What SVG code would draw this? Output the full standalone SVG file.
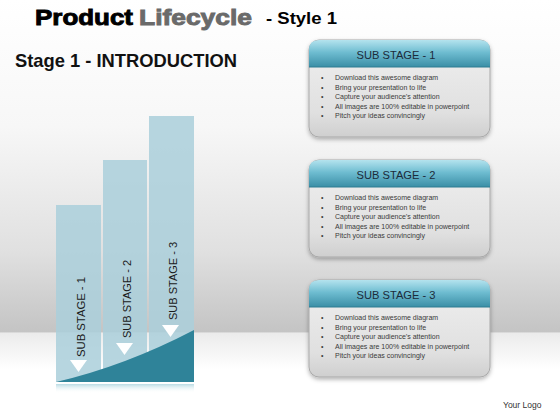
<svg xmlns="http://www.w3.org/2000/svg" width="560" height="420" viewBox="0 0 560 420">
  <defs>
    <linearGradient id="bg" x1="0" y1="0" x2="0" y2="1">
      <stop offset="0" stop-color="#ffffff"/>
      <stop offset="0.3" stop-color="#f7f7f7"/>
      <stop offset="0.6" stop-color="#e0e0e0"/>
      <stop offset="0.79" stop-color="#c4c4c4"/>
      <stop offset="0.793" stop-color="#ebebeb"/>
      <stop offset="0.88" stop-color="#ffffff"/>
      <stop offset="1" stop-color="#ffffff"/>
    </linearGradient>
    <linearGradient id="head" x1="0" y1="0" x2="0" y2="1">
      <stop offset="0" stop-color="#b4e3ee"/>
      <stop offset="0.45" stop-color="#6fbdd1"/>
      <stop offset="1" stop-color="#3a8ea6"/>
    </linearGradient>
    <linearGradient id="body" x1="0" y1="0" x2="0" y2="1">
      <stop offset="0" stop-color="#f0f0f0"/>
      <stop offset="0.75" stop-color="#e0e0e0"/>
      <stop offset="1" stop-color="#cfcfcf"/>
    </linearGradient>
    <linearGradient id="refl" x1="0" y1="0" x2="0" y2="1">
      <stop offset="0" stop-color="#b9dbe4"/>
      <stop offset="1" stop-color="#ffffff" stop-opacity="0"/>
    </linearGradient>
    <filter id="sh" x="-10%" y="-10%" width="120%" height="130%">
      <feDropShadow dx="0" dy="2" stdDeviation="2" flood-color="#000" flood-opacity="0.3"/>
    </filter>
    <g id="box">
      <rect x="0" y="0" width="181" height="97" rx="10" fill="url(#body)" stroke="#a9a9a9" stroke-width="1" filter="url(#sh)"/>
      <path d="M0,27 L0,10 Q0,0 10,0 L171,0 Q181,0 181,10 L181,27 Z" fill="url(#head)"/>
      <line x1="0" y1="27" x2="181" y2="27" stroke="#2f7c92" stroke-width="1"/>
      <g class="bl">
        <text x="12" y="40">•</text>
        <text x="12" y="49.5">•</text>
        <text x="12" y="59">•</text>
        <text x="12" y="68.5">•</text>
        <text x="12" y="78">•</text>
        <text x="26" y="40">Download this awesome diagram</text>
        <text x="26" y="49.5">Bring your presentation to life</text>
        <text x="26" y="59">Capture your audience’s attention</text>
        <text x="26" y="68.5">All images are 100% editable  in powerpoint</text>
        <text x="26" y="78">Pitch your ideas convincingly</text>
      </g>
    </g>
  </defs>
  <style>
    .bl text { font-family: "Liberation Sans", Arial, sans-serif; font-size: 7px; fill: #3a3a3a; }
    .hd { font-family: "Liberation Sans", Arial, sans-serif; font-size: 11.5px; fill: #1c2b3a; text-anchor: middle; }
    .vt { font-family: "Liberation Sans", Arial, sans-serif; font-size: 11.5px; fill: #1a1a1a; }
    .bar { fill: #aacfdb; opacity: 0.85; }
    .tri { fill: #ffffff; }
  </style>

  <rect x="0" y="0" width="560" height="420" fill="url(#bg)"/>

  <g id="title">
    <text x="35" y="25" font-family="'Liberation Sans', Arial, sans-serif" font-weight="bold" font-size="22" fill="#000" stroke="#000" stroke-width="0.9" textLength="98" lengthAdjust="spacingAndGlyphs">Product</text>
    <text x="139" y="25" font-family="'Liberation Sans', Arial, sans-serif" font-weight="bold" font-size="22" fill="#6a6a6a" stroke="#6a6a6a" stroke-width="0.9" textLength="113" lengthAdjust="spacingAndGlyphs">Lifecycle</text>
    <text x="266" y="24" font-family="'Liberation Sans', Arial, sans-serif" font-weight="bold" font-size="17" fill="#000" textLength="71" lengthAdjust="spacingAndGlyphs">- Style 1</text>
  </g>
  <g id="subtitle">
    <text x="15" y="67" font-family="'Liberation Sans', Arial, sans-serif" font-weight="bold" font-size="19" fill="#111" textLength="222" lengthAdjust="spacingAndGlyphs">Stage 1 - INTRODUCTION</text>
  </g>

  <g id="chart">
    <rect x="56" y="384" width="138" height="9" fill="url(#refl)"/>
    <rect class="bar" x="56" y="205" width="45" height="177"/>
    <rect class="bar" x="103" y="160" width="44" height="222"/>
    <rect class="bar" x="149" y="116" width="45" height="266"/>
    <path d="M56,382 Q125,366 194,330 L194,382 Z" fill="#2f8399"/>
    <polygon class="tri" points="70,360 87,360 78.5,372"/>
    <polygon class="tri" points="116,343 133,343 124.5,355"/>
    <polygon class="tri" points="162,325 179,325 170.5,337"/>
    <text class="vt" transform="translate(85,357) rotate(-90)" textLength="80" lengthAdjust="spacingAndGlyphs">SUB STAGE - 1</text>
    <text class="vt" transform="translate(131,338) rotate(-90)" textLength="78" lengthAdjust="spacingAndGlyphs">SUB STAGE - 2</text>
    <text class="vt" transform="translate(177,320) rotate(-90)" textLength="78" lengthAdjust="spacingAndGlyphs">SUB STAGE - 3</text>
  </g>

  <g id="box1" transform="translate(309,40)">
    <use href="#box"/>
    <text class="hd" x="87" y="19" textLength="79" lengthAdjust="spacingAndGlyphs">SUB STAGE - 1</text>
  </g>
  <g id="box2" transform="translate(309,160)">
    <use href="#box"/>
    <text class="hd" x="87" y="19" textLength="79" lengthAdjust="spacingAndGlyphs">SUB STAGE - 2</text>
  </g>
  <g id="box3" transform="translate(309,280)">
    <use href="#box"/>
    <text class="hd" x="87" y="19" textLength="79" lengthAdjust="spacingAndGlyphs">SUB STAGE - 3</text>
  </g>

  <g id="logo">
    <text x="503" y="408" font-family="'Liberation Sans', Arial, sans-serif" font-size="8.5" fill="#333">Your Logo</text>
  </g>
</svg>
